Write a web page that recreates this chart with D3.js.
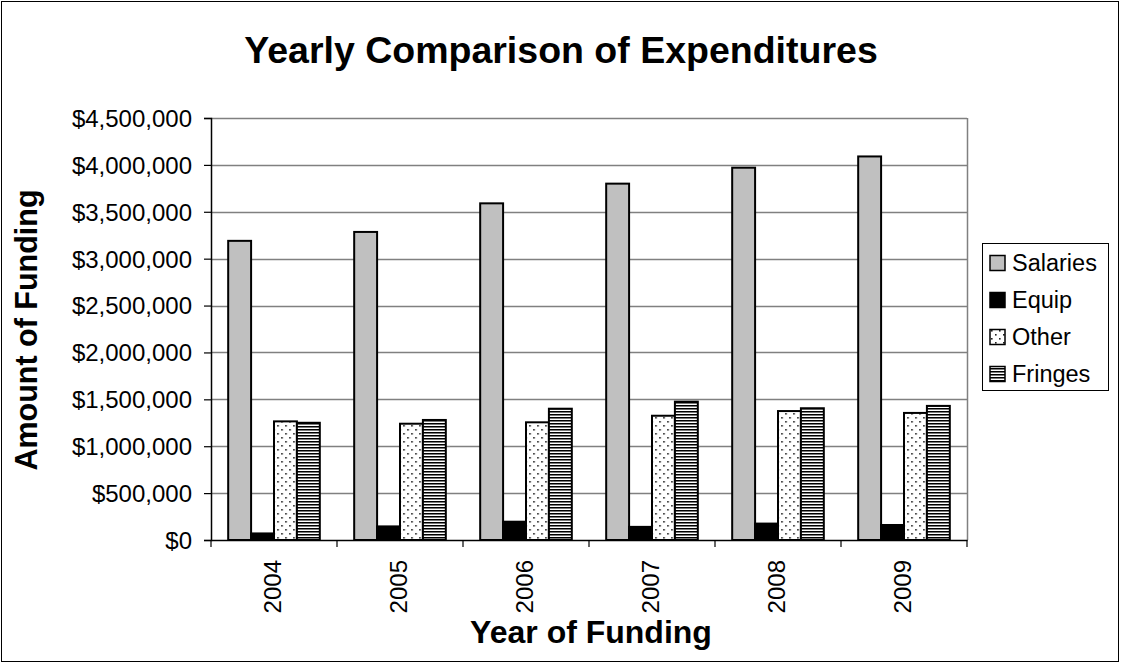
<!DOCTYPE html>
<html><head><meta charset="utf-8">
<script src="https://cdn.jsdelivr.net/npm/d3@7"></script>
<style>
html,body{margin:0;padding:0;background:#fff;}
svg{display:block;font-family:"Liberation Sans",Arial,sans-serif;}
</style></head>
<body><svg id="chart" width="1121" height="664"></svg>
<script>
const years = ["2004","2005","2006","2007","2008","2009"];
const seriesNames = ["Salaries","Equip","Other","Fringes"];
const salaries = [3190000, 3285000, 3590000, 3800000, 3970000, 4090000];
const equip    = [70000, 145000, 195000, 140000, 175000, 160000];
const other    = [1265000, 1240000, 1255000, 1325000, 1375000, 1355000];
const fringes  = [1250000, 1280000, 1400000, 1475000, 1405000, 1430000];
const yTicks = [0,500000,1000000,1500000,2000000,2500000,3000000,3500000,4000000,4500000];

const seriesValues = {Salaries: salaries, Equip: equip, Other: other, Fringes: fringes};

const svg = d3.select("#chart");
const W = 1121, H = 664;
const plot = {left: 211, right: 967, top: 118, bottom: 540};

// patterns
const defs = svg.append("defs");
const pDots = defs.append("pattern").attr("id","pDots").attr("patternUnits","userSpaceOnUse")
  .attr("width",8).attr("height",8);
pDots.append("rect").attr("width",8).attr("height",8).attr("fill","#fff");
pDots.append("rect").attr("x",1).attr("y",1).attr("width",1.6).attr("height",1.6).attr("fill","#222");
pDots.append("rect").attr("x",5).attr("y",5).attr("width",1.6).attr("height",1.6).attr("fill","#222");
const pStripes = defs.append("pattern").attr("id","pStripes").attr("patternUnits","userSpaceOnUse")
  .attr("width",6).attr("height",3);
pStripes.append("rect").attr("width",6).attr("height",3).attr("fill","#fff");
pStripes.append("rect").attr("y",0).attr("width",6).attr("height",1).attr("fill","#000");
pStripes.append("rect").attr("y",1).attr("width",6).attr("height",1).attr("fill","#7a7a7a");

const fills = {Salaries:"#c0c0c0", Equip:"#000", Other:"url(#pDots)", Fringes:"url(#pStripes)"};

// outer border
svg.append("rect").attr("x",1.5).attr("y",1.5).attr("width",W-4).attr("height",H-4)
  .attr("fill","#fff").attr("stroke","#000").attr("stroke-width",1);

const x = d3.scaleBand().domain(years).range([plot.left, plot.right])
  .paddingInner(1.5/5.5).paddingOuter(0.75/5.5);
const xs = d3.scaleBand().domain(seriesNames).range([0, x.bandwidth()]).padding(0);
const y = d3.scaleLinear().domain([0, 4500000]).range([plot.bottom, plot.top]);

// gridlines
svg.append("g").selectAll("line").data(yTicks.filter(d=>d>0)).join("line")
  .attr("x1",plot.left).attr("x2",plot.right)
  .attr("y1",d=>Math.round(y(d))+0.5).attr("y2",d=>Math.round(y(d))+0.5)
  .attr("stroke","#808080").attr("stroke-width",1.5);
// right border of plot
svg.append("line").attr("x1",plot.right+0.5).attr("x2",plot.right+0.5)
  .attr("y1",plot.top).attr("y2",plot.bottom).attr("stroke","#808080").attr("stroke-width",1.5);

// bars
const groups = svg.append("g").selectAll("g").data(years).join("g")
  .attr("transform", d=>`translate(${x(d)},0)`);
groups.selectAll("rect").data((yr,i)=>seriesNames.map(s=>({s, v: seriesValues[s][i]}))).join("rect")
  .attr("x", d=>xs(d.s)).attr("width", xs.bandwidth())
  .attr("y", d=>y(d.v)).attr("height", d=>y(0)-y(d.v))
  .attr("fill", d=>fills[d.s]).attr("stroke","#000").attr("stroke-width",2);

// y axis
const yAxis = d3.axisLeft(y).tickValues(yTicks).tickSize(7)
  .tickFormat(d=>"$"+d3.format(",")(d));
const gy = svg.append("g").attr("transform",`translate(${plot.left},0)`).call(yAxis);
gy.select(".domain").attr("stroke","#000").attr("stroke-width",1.5);
gy.selectAll(".tick line").attr("stroke","#000").attr("stroke-width",1.2);
gy.selectAll(".tick text").attr("font-size",24).attr("font-family","Liberation Sans, Arial, sans-serif")
  .attr("fill","#000").attr("x",-19).attr("dy","0.35em");

// x axis
const xAxis = d3.axisBottom(x).tickSize(0).tickFormat("");
const gx = svg.append("g").attr("transform",`translate(0,${plot.bottom})`).call(xAxis);
gx.select(".domain").attr("stroke","#000").attr("stroke-width",1.5);
gx.selectAll(".tick").remove();
// category boundary ticks
const bounds = years.map((d)=> x(d) - x.step()*x.paddingOuter()).concat([plot.right]);
svg.append("g").selectAll("line").data(bounds).join("line")
  .attr("x1",d=>d).attr("x2",d=>d).attr("y1",plot.bottom).attr("y2",plot.bottom+7)
  .attr("stroke","#000").attr("stroke-width",1.2);
// year labels
svg.append("g").selectAll("text").data(years).join("text")
  .attr("transform", d=>`translate(${x(d)+x.bandwidth()/2 - 1},560) rotate(-90)`)
  .attr("text-anchor","end").attr("dy","0.35em")
  .attr("font-size",24).attr("fill","#000").text(d=>d);

// titles
svg.append("text").attr("x",561).attr("y",63).attr("text-anchor","middle")
  .attr("font-size",37.5).attr("font-weight","bold").text("Yearly Comparison of Expenditures");
svg.append("text").attr("x",591).attr("y",643).attr("text-anchor","middle")
  .attr("font-size",32).attr("font-weight","bold").text("Year of Funding");
svg.append("text").attr("transform","translate(37,330) rotate(-90)").attr("text-anchor","middle")
  .attr("font-size",30.5).attr("font-weight","bold").text("Amount of Funding");

// legend
const lg = svg.append("g");
lg.append("rect").attr("x",982.5).attr("y",243.5).attr("width",126).attr("height",147)
  .attr("fill","#fff").attr("stroke","#000").attr("stroke-width",1);
const items = lg.selectAll("g").data(seriesNames).join("g")
  .attr("transform",(d,i)=>`translate(990,${263 + i*37})`);
items.append("rect").attr("x",0).attr("y",-7.5).attr("width",15).attr("height",15)
  .attr("fill",d=>fills[d]).attr("stroke","#000").attr("stroke-width",1.5);
items.append("text").attr("x",22).attr("y",0).attr("dy","0.35em")
  .attr("font-size",23.5).attr("fill","#000").text(d=>d);
</script></body></html>
